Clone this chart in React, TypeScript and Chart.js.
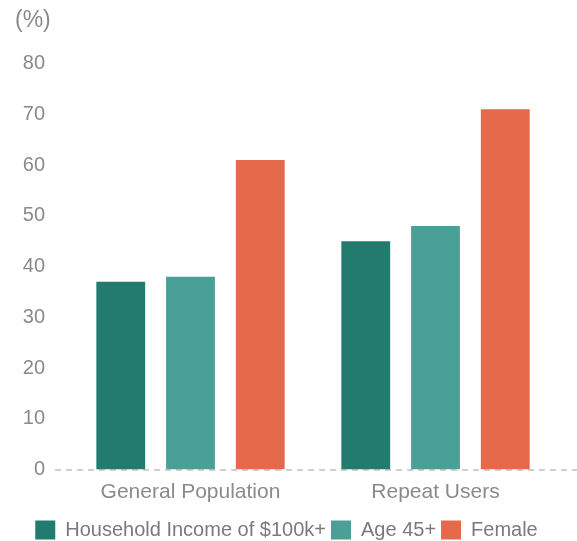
import React, { useEffect, useRef } from 'react';
import { Chart, registerables } from 'chart.js';

Chart.register(...registerables);

const categories = ['General Population', 'Repeat Users'];
const seriesNames = ['Household Income of $100k+', 'Age 45+', 'Female'];
const incomeValues = [37, 45];
const ageValues = [38, 48];
const femaleValues = [61, 71];
const seriesColors = ['#237b70', '#4aa096', '#e5694b'];
const yMin = 0;
const yMax = 80;
const yStep = 10;
const unitLabel = '(%)';

const FONT = "'Liberation Sans', Arial, sans-serif";
const TEXT = '#8a8a8a';

// Dashed zero line that runs from just left of the plot to the right edge
const baselinePlugin = {
  id: 'dashedBaseline',
  beforeDatasetsDraw(chart: any) {
    const { ctx, chartArea, scales } = chart;
    const y = Math.round(scales.y.getPixelForValue(0));
    ctx.save();
    ctx.strokeStyle = '#d0d0d0';
    ctx.lineWidth = 2;
    ctx.setLineDash([6, 5]);
    ctx.beginPath();
    ctx.moveTo(chartArea.left - 13, y);
    ctx.lineTo(chart.width, y);
    ctx.stroke();
    ctx.restore();
  },
};

export default function App() {
  const canvasRef = useRef<HTMLCanvasElement | null>(null);

  useEffect(() => {
    if (!canvasRef.current) return;
    const values = [incomeValues, ageValues, femaleValues];
    const chart = new Chart(canvasRef.current, {
      type: 'bar',
      data: {
        labels: categories,
        datasets: seriesNames.map((name, i) => ({
          label: name,
          data: values[i],
          backgroundColor: seriesColors[i],
          borderWidth: 0,
          categoryPercentage: 0.854,
          barPercentage: 0.7,
        })),
      },
      options: {
        animation: false,
        responsive: true,
        maintainAspectRatio: false,
        layout: { padding: { left: 15, right: 19, top: 0, bottom: -9 } },
        scales: {
          x: {
            grid: { display: false, drawTicks: false },
            border: { display: false },
            ticks: {
              color: TEXT,
              font: { family: FONT, size: 21 },
              padding: 10,
            },
            afterFit(scale: any) {
              scale.height = 45.5;
            },
          },
          y: {
            min: yMin,
            max: yMax,
            grid: { display: false, drawTicks: false },
            border: { display: false },
            ticks: {
              stepSize: yStep,
              color: TEXT,
              font: { family: FONT, size: 20 },
              padding: 23,
            },
            afterFit(scale: any) {
              scale.width = 53;
            },
          },
        },
        plugins: {
          title: {
            display: true,
            text: unitLabel,
            align: 'start',
            color: TEXT,
            font: { family: FONT, size: 23, weight: 'normal' },
            padding: { top: 7, bottom: 29 },
          },
          legend: {
            position: 'bottom',
            labels: {
              color: '#7a7a7a',
              font: { family: FONT, size: 20 },
              boxWidth: 20,
              boxHeight: 19,
              padding: 5,
            },
          },
          tooltip: { enabled: false },
        },
      },
      plugins: [baselinePlugin],
    });
    return () => chart.destroy();
  }, []);

  return (
    <div style={{ position: 'fixed', left: 0, top: 0, width: 577, height: 541, background: '#fff' }}>
      <canvas ref={canvasRef} />
    </div>
  );
}
